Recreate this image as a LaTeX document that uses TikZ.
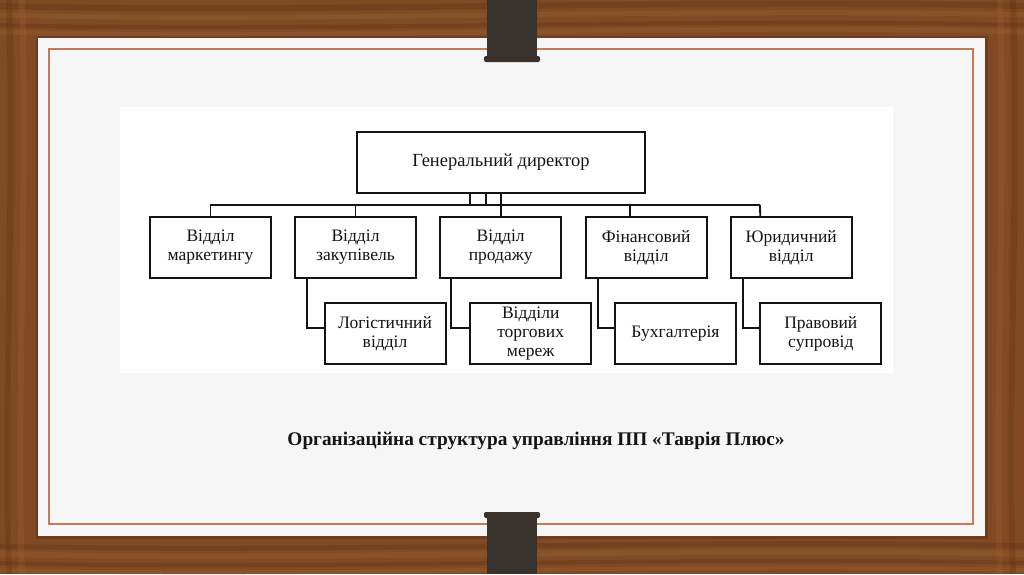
\documentclass[tikz,border=0pt]{standalone}
\usepackage{fontspec}
\setmainfont{Liberation Serif}
\definecolor{wood}{RGB}{128,74,36}
\definecolor{wooddark}{RGB}{92,50,20}
\definecolor{woodlight}{RGB}{158,98,48}
\definecolor{card}{RGB}{246,246,246}
\definecolor{frame}{RGB}{196,122,84}
\definecolor{clipcol}{RGB}{56,49,44}
\definecolor{ink}{RGB}{20,20,20}
\tikzset{
  unit/.style={draw=ink,line width=2pt,rectangle,minimum width=121pt,minimum height=61pt,
    align=center,inner sep=2pt,text=ink,font=\fontsize{17.5}{19}\selectfont},
  link/.style={draw=ink,line width=1.8pt}
}

\begin{document}
\begin{tikzpicture}[x=1pt,y=-1pt]
\path[use as bounding box] (0,0) rectangle (1024,574);
% wood background
\fill[wood] (0,0) rectangle (1024,574);
\foreach \y/\c/\w in {6/wooddark/6,15/woodlight/5,25/wooddark/4,32/woodlight/5,546/wooddark/5,554/woodlight/6,563/wooddark/4,570/woodlight/4}
  \draw[\c,line width=\w pt,opacity=0.35] (0,\y) .. controls (300,\y+8) and (700,\y-8) .. (1024,\y);
\foreach \x/\c in {9/wooddark,22/woodlight,1000/woodlight,1013/wooddark}
  \draw[\c,line width=6pt,opacity=0.3] (\x,0) .. controls (\x+6,200) and (\x-6,400) .. (\x,574);
% card
\fill[black,opacity=0.15] (36,36) rectangle (988,539);
\fill[card] (38,38) rectangle (985,536);
\draw[frame,line width=1.4pt] (49,49) rectangle (973,524);
\fill[white] (120,107) rectangle (893,373);
% clips
\fill[clipcol] (487,0) rectangle (537,59);
\fill[clipcol,rounded corners=2pt] (484,56) rectangle (540,62);
\fill[clipcol] (487,515) rectangle (537,574);
\fill[clipcol,rounded corners=2pt] (484,512) rectangle (540,518);

% chart
\node[unit,minimum width=288pt,font=\fontsize{18.5}{21}\selectfont] (dir) at (501,162.5) {Генеральний директор};
\node[unit] (mkt) at (210.5,247.5) {Відділ\\маркетингу};
\node[unit] (zak) at (355.5,247.5) {Відділ\\закупівель};
\node[unit] (prod) at (500.7,247.5) {Відділ\\продажу};
\node[unit] (fin) at (646.2,247.5) {Фінансовий\\відділ};
\node[unit] (jur) at (791.2,247.5) {Юридичний\\відділ};
\node[unit] (log) at (385,333.5) {Логістичний\\відділ};
\node[unit] (torg) at (530.7,333.5) {Відділи\\торгових\\мереж};
\node[unit] (buh) at (675.5,333.5) {Бухгалтерія};
\node[unit] (prav) at (820.8,333.5) {Правовий\\супровід};

\coordinate (busL) at (210,205);
\coordinate (busR) at (760,205);
\draw[link] (busL) -- (busR);
\foreach \dx in {-31,-15,0}
  \draw[link] ([xshift=\dx pt]dir.south) -- ([xshift=\dx pt]dir.south |- busL);
\draw[link] (mkt.north) -- (mkt.north |- busL);
\draw[link] (zak.north) -- (zak.north |- busL);
\draw[link] (prod.north) -- (prod.north |- busL);
\draw[link] ([xshift=-16pt]fin.north) -- ([xshift=-16pt]fin.north |- busL);
\draw[link] ([xshift=-31pt]jur.north) -- (busR);
\draw[link] ([xshift=13pt]zak.south west) |- ([yshift=5.5pt]log.west);
\draw[link] ([xshift=12pt]prod.south west) |- ([yshift=5.5pt]torg.west);
\draw[link] ([xshift=13pt]fin.south west) |- ([yshift=5.5pt]buh.west);
\draw[link] ([xshift=13pt]jur.south west) |- ([yshift=5.5pt]prav.west);

\node[text=ink,font=\bfseries\fontsize{19.3}{22}\selectfont] (title) at (536,441)
  {Організаційна структура управління ПП «Таврія Плюс»};
\end{tikzpicture}
\end{document}
